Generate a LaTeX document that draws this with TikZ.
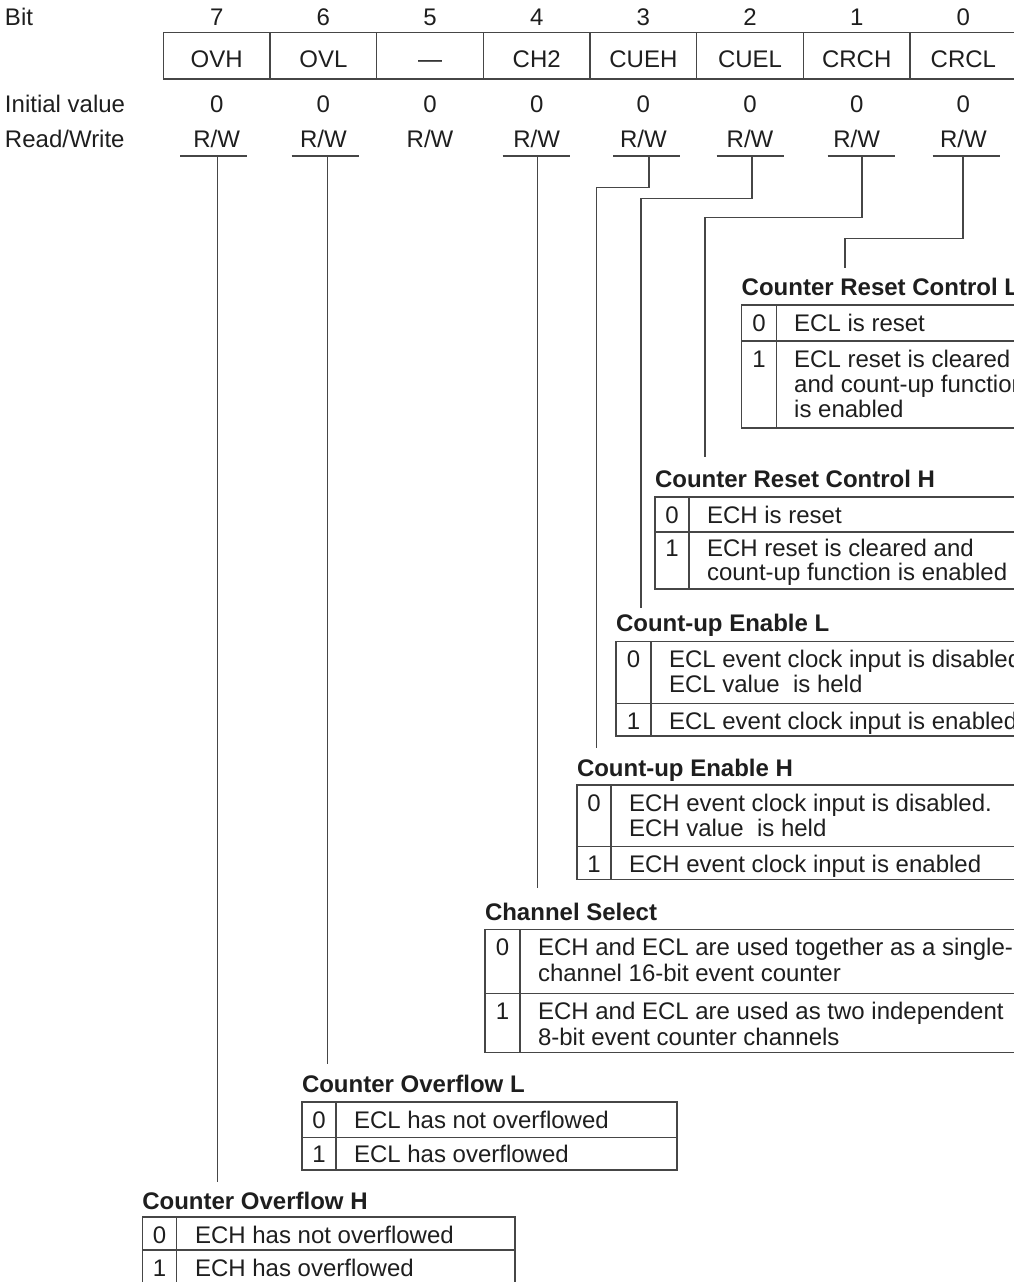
\documentclass[tikz,border=0pt]{standalone}
\usepackage{fontspec}
\setmainfont{Liberation Sans}
\definecolor{ink}{RGB}{30,30,30}
\definecolor{rulec}{RGB}{70,70,70}
\begin{document}
\begin{tikzpicture}[x=1pt,y=-1pt,
  txt/.style={inner sep=0pt, outer sep=0pt, text=ink, font=\fontsize{24}{26}\selectfont, anchor=base west},
  num/.style={txt, anchor=base},
  ttl/.style={txt, font=\fontsize{24}{26}\selectfont\bfseries},
  rule/.style={draw=rulec, line width=1.2pt},
  lead/.style={draw=rulec, line width=1.2pt},
]
\useasboundingbox (0,0) rectangle (1014,1282);
\clip (0,0) rectangle (1014,1282);

% ---------- register header ----------
\node[txt] (hbit)  at (5,25)  {Bit};
\node[txt] (hinit) at (5,112) {Initial value};
\node[txt] (hrw)   at (5,147) {Read/Write};

\draw[rule] (163.3,32.3) rectangle (1040,79);
\foreach \x in {270,376.7,483.3,590,696.7,803.3,910,1016.7}
  \draw[rule] (\x,32.3) -- (\x,79);

\foreach \b/\f [count=\k from 0] in {7/OVH,6/OVL,5/\textemdash,4/CH2,3/CUEH,2/CUEL,1/CRCH,0/CRCL}{
  \pgfmathsetmacro{\cx}{216.7+106.67*\k}
  \node[num] (bitno\b) at (\cx,25)  {\b};
  \node[num] (fld\b)   at (\cx,67)  {\f};
  \node[num] (ini\b)   at (\cx,112) {0};
  \node[num] (rw\b)    at (\cx,147) {R/W};
}

% underlines below the R/W entries
\foreach \n/\x in {7/213.8,6/325,4/536,3/646.5,2/750,1/861,0/966}
  \draw[rule] (\x-33.5,156) -- (\x+33.5,156);

% ---------- leader line end points ----------
\coordinate (u7) at (217.3,156);  \coordinate (e7) at (217.3,1181.7);
\coordinate (u6) at (327.7,156);  \coordinate (e6) at (327.7,1064);
\coordinate (u4) at (537.5,156);  \coordinate (e4) at (537.5,888.3);
\coordinate (u3) at (649,156);    \coordinate (b3) at (596.7,187.7); \coordinate (e3) at (596.7,748.3);
\coordinate (u2) at (752,156);    \coordinate (b2) at (641,198.3);   \coordinate (e2) at (641,608.3);
\coordinate (u1) at (862,156);    \coordinate (b1) at (705,217.3);   \coordinate (e1) at (705,457.3);
\coordinate (u0) at (963,156);    \coordinate (b0) at (845,238.3);   \coordinate (e0) at (845,268.3);

\draw[lead] (u7) -- (e7);
\draw[lead] (u6) -- (e6);
\draw[lead] (u4) -- (e4);
\draw[lead] (u3) |- (b3) -- (e3);
\draw[lead] (u2) |- (b2) -- (e2);
\draw[lead] (u1) |- (b1) -- (e1);
\draw[lead] (u0) |- (b0) -- (e0);

% ---------- Counter Reset Control L (bit 0) ----------
\node[ttl] (t0) at (741.7,295) {Counter Reset Control L};
\draw[rule] (741.7,305) rectangle (1040,428);
\draw[rule] (741.7,341) -- (1040,341);
\draw[rule] (776.2,305) -- (776.2,428);
\node[num] (t0n0) at (759,331) {0};
\node[txt] (t0a)  at (794.2,331) {ECL is reset};
\node[num] (t0n1) at (759,367) {1};
\node[txt] (t0b)  at (794.2,367) {ECL reset is cleared};
\node[txt] (t0c)  at (794.2,392) {and count-up function};
\node[txt] (t0d)  at (794.2,417) {is enabled};

% ---------- Counter Reset Control H (bit 1) ----------
\node[ttl] (t1) at (655,487) {Counter Reset Control H};
\draw[rule] (655,497) rectangle (1040,589);
\draw[rule] (655,532) -- (1040,532);
\draw[rule] (689,497) -- (689,589);
\node[num] (t1n0) at (672,523) {0};
\node[txt] (t1a)  at (707,523) {ECH is reset};
\node[num] (t1n1) at (672,556) {1};
\node[txt] (t1b)  at (707,556) {ECH reset is cleared and};
\node[txt] (t1c)  at (707,580) {count-up function is enabled};

% ---------- Count-up Enable L (bit 2) ----------
\node[ttl] (t2) at (616,631.7) {Count-up Enable L};
\draw[rule] (616,641.7) rectangle (1040,736);
\draw[rule] (616,703.3) -- (1040,703.3);
\draw[rule] (651,641.7) -- (651,736);
\node[num] (t2n0) at (633.5,667.5) {0};
\node[txt] (t2a)  at (669,667.5) {ECL event clock input is disabled.};
\node[txt] (t2b)  at (669,692.5) {ECL value\ \ is held};
\node[num] (t2n1) at (633.5,729.5) {1};
\node[txt] (t2c)  at (669,729.5) {ECL event clock input is enabled};

% ---------- Count-up Enable H (bit 3) ----------
\node[ttl] (t3) at (577,776) {Count-up Enable H};
\draw[rule] (577,785) rectangle (1040,879.3);
\draw[rule] (577,846.7) -- (1040,846.7);
\draw[rule] (611,785) -- (611,879.3);
\node[num] (t3n0) at (594,811) {0};
\node[txt] (t3a)  at (629,811) {ECH event clock input is disabled.};
\node[txt] (t3b)  at (629,836) {ECH value\ \ is held};
\node[num] (t3n1) at (594,872.5) {1};
\node[txt] (t3c)  at (629,872.5) {ECH event clock input is enabled};

% ---------- Channel Select (bit 4) ----------
\node[ttl] (t4) at (485,920) {Channel Select};
\draw[rule] (485,929.3) rectangle (1040,1052.7);
\draw[rule] (485,993.3) -- (1040,993.3);
\draw[rule] (520,929.3) -- (520,1052.7);
\node[num] (t4n0) at (502.5,955) {0};
\node[txt] (t4a)  at (538,955) {ECH and ECL are used together as a single-};
\node[txt] (t4b)  at (538,981) {channel 16-bit event counter};
\node[num] (t4n1) at (502.5,1019.5) {1};
\node[txt] (t4c)  at (538,1019.5) {ECH and ECL are used as two independent};
\node[txt] (t4d)  at (538,1045) {8-bit event counter channels};

% ---------- Counter Overflow L (bit 6) ----------
\node[ttl] (t6) at (302,1092) {Counter Overflow L};
\draw[rule] (302,1102) rectangle (677,1170);
\draw[rule] (302,1137.5) -- (677,1137.5);
\draw[rule] (336,1102) -- (336,1170);
\node[num] (t6n0) at (319,1128) {0};
\node[txt] (t6a)  at (354,1128) {ECL has not overflowed};
\node[num] (t6n1) at (319,1162) {1};
\node[txt] (t6b)  at (354,1162) {ECL has overflowed};

% ---------- Counter Overflow H (bit 7) ----------
\node[ttl] (t7) at (142.3,1209) {Counter Overflow H};
\draw[rule] (142.3,1217) rectangle (515,1295);
\draw[rule] (142.3,1250) -- (515,1250);
\draw[rule] (176.7,1217) -- (176.7,1295);
\node[num] (t7n0) at (159.5,1243) {0};
\node[txt] (t7a)  at (195,1243) {ECH has not overflowed};
\node[num] (t7n1) at (159.5,1276) {1};
\node[txt] (t7b)  at (195,1276) {ECH has overflowed};
\end{tikzpicture}
\end{document}
